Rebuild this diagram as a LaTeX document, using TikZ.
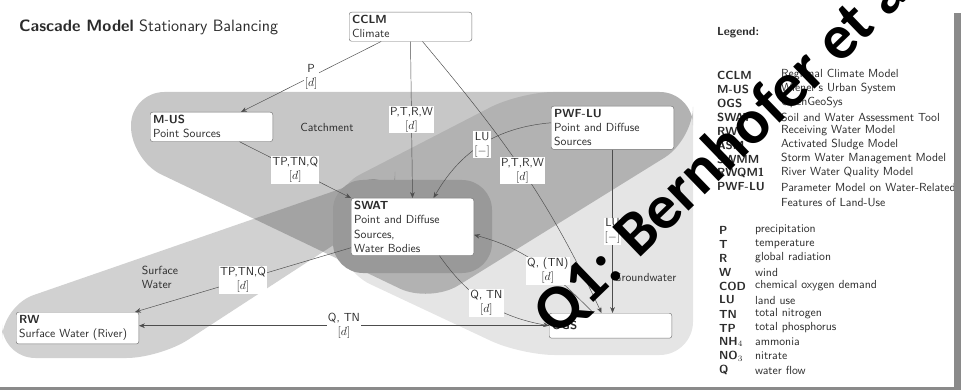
\documentclass[tikz,border=0pt]{standalone}
\usepackage{fontspec}
\newfontfamily\markfont{Carlito}
\usepackage{tikz}
\usetikzlibrary{positioning, arrows.meta, calc}
\definecolor{textgray}{HTML}{2B2B2B}
\definecolor{linegray}{HTML}{4D4D4D}
\definecolor{framegray}{HTML}{8A8A8A}

\begin{document}
\begin{tikzpicture}[
    x=0.03cm, y=0.03cm,
    every node/.style={font=\sffamily\fontsize{10}{12}\selectfont, text=textgray},
    modelbox/.style={draw=black!55, fill=white, rounded corners=2pt, anchor=north west,
        align=left, text width=3.5cm, inner xsep=2.5pt, inner ysep=2.8pt},
    flow/.style={draw=linegray, -{Stealth[length=5pt,width=4pt]}},
    flowlbl/.style={fill=white, align=center, inner sep=1pt},
    legabbr/.style={anchor=west, font=\sffamily\bfseries\fontsize{10}{12}\selectfont},
    legdesc/.style={anchor=west}
]
\useasboundingbox (0,0) rectangle (961,390);
\fill[white] (0,0) rectangle (961,390);

% zones
\fill[black, fill opacity=0.22, rounded corners=1cm]
    (131,298) -- (693,298) -- (693,250) -- (430,87) -- (131,230) -- cycle;
\fill[black, fill opacity=0.10, rounded corners=1cm]
    (330,200) -- (520,298) -- (693,298) -- (693,35) -- (521,35) -- (340,120) -- cycle;
\fill[black, fill opacity=0.18, rounded corners=1cm]
    (2,84) -- (2,32) -- (160,32) -- (395,185) -- (395,220) -- cycle;
\fill[black!40, rounded corners=0.9cm] (333,210) rectangle (492,117);

\node (catch) at (327,263) {Catchment};
\node[align=left] (surf) at (160,113) {Surface\\Water};
\node (ground) at (645,113) {Groundwater};

% title
\node[anchor=base west, font=\sffamily\fontsize{14}{17}\selectfont] (title) at (15,358)
    {\textbf{Cascade Model} Stationary Balancing};

% models
\node[modelbox] (cclm) at (349,378) {\textbf{CCLM}\\Climate};
\node[modelbox] (mus) at (150,278) {\textbf{M-US}\\Point Sources};
\node[modelbox] (pwf) at (551,284) {\textbf{PWF-LU}\\Point and Diffuse\\Sources};
\node[modelbox] (swat) at (351,192) {\textbf{SWAT}\\Point and Diffuse\\Sources,\\Water Bodies};
\node[modelbox] (rw) at (16,78) {\textbf{RW}\\Surface Water (River)};
\node[modelbox, minimum height=21.3pt] (ogs) at (549,77) {\textbf{OGS}};

% flows
\draw[flow] (cclm) -- node[flowlbl] (lblp) {P\\$[d]$} (mus);
\draw[flow] (cclm.south) -- node[flowlbl] (lblclimswat) {P,T,R,W\\$[d]$} (swat.north);
\draw[flow] ($(cclm.south)+(12,0)$) to[out=-50,in=115]
    node[flowlbl] (lblclimogs) {P,T,R,W\\$[d]$} ($(ogs.north)+(-9,0)$);
\draw[flow] ($(mus.south)+(28,0)$) -- node[flowlbl] (lblmus) {TP,TN,Q\\$[d]$} (swat.north west);
\draw[flow] ($(pwf.west)+(0,5)$) to[out=185,in=60]
    node[flowlbl, pos=0.5] (lblpwfswat) {LU\\$[-]$} ($(swat.north)+(21,0)$);
\draw[flow] (pwf.south) -- node[flowlbl] (lblpwfogs) {LU\\$[-]$} (pwf.south |- ogs.north);
\draw[flow] ($(swat.south west)+(0,8)$) -- node[flowlbl] (lblswatrw) {TP,TN,Q\\$[d]$} ($(rw.north east)+(-4,0)$);
\draw[flow] ($(swat.south)+(27,0)$) to[out=-55,in=170]
    node[flowlbl] (lblswatogs) {Q, TN\\$[d]$} (ogs.west);
\draw[flow] ($(ogs.north)+(-17,0)$) to[out=135,in=-15]
    node[flowlbl, pos=0.42] (lblogsswat) {Q, (TN)\\$[d]$} ($(swat.east)+(0,-8)$);
\draw[flow] (ogs.west) -- node[flowlbl] (lblogsrw) {Q, TN\\$[d]$} (ogs.west -| rw.east);

% legend
\node[anchor=west, font=\sffamily\bfseries\fontsize{10}{12}\selectfont] (legend) at (713,357) {Legend:};
\foreach \abbr/\desc [count=\i] in {CCLM/Regional Climate Model, M-US/Wiener's Urban System,
    OGS/OpenGeoSys, SWAT/Soil and Water Assessment Tool, RW/Receiving Water Model,
    ASM/Activated Sludge Model, SWMM/Storm Water Management Model,
    RWQM1/River Water Quality Model, PWF-LU/Parameter Model on Water-Related} {
    \node[legabbr] (mabbr\i) at (713,329-14*\i) {\abbr};
    \node[legdesc] (mdesc\i) at (777,329-14*\i) {\desc};
}
\node[legdesc] (mdescfeat) at (777,188) {Features of Land-Use};
\foreach \abbr/\desc [count=\i] in {P/precipitation, T/temperature, R/global radiation,
    W/wind, COD/chemical oxygen demand, LU/land use, TN/total nitrogen,
    TP/total phosphorus, NH$_4$/ammonia, NO$_3$/nitrate, Q/water flow} {
    \node[legabbr] (vabbr\i) at (715,174-14*\i) {\abbr};
    \node[legdesc] (vdesc\i) at (751,174-14*\i) {\desc};
}

% frame
\fill[framegray] (954,0) rectangle (961,377);
\fill[framegray] (0,0) rectangle (961,3);

% stamp
\node[rotate=44, font=\markfont\bfseries\fontsize{54}{60}\selectfont, text=black]
    (stamp) at (733,247) {Q1: Bernhofer et al.};
\end{tikzpicture}
\end{document}
